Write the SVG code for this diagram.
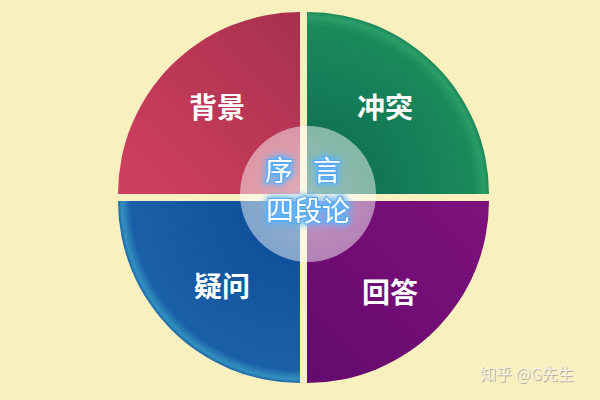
<svg xmlns="http://www.w3.org/2000/svg" width="600" height="400" viewBox="0 0 600 400">
  <style>
    .label { font-family: "Noto Sans CJK SC", "Noto Sans", sans-serif; font-size: 28px; font-weight: 700; fill: #ffffff; text-anchor: middle; }
    .center-text { font-family: "Noto Sans CJK SC", "Noto Sans", sans-serif; font-size: 28px; font-weight: 400; fill: #ffffff; stroke: #5aa8ee; stroke-width: 2.2; paint-order: stroke; }
    .wm { font-family: "Noto Sans CJK SC", "Liberation Sans", sans-serif; font-size: 16px; }
  </style>
  <defs>
    <linearGradient id="gTL" x1="0" y1="1" x2="1" y2="0">
      <stop offset="0" stop-color="#d0405e"/>
      <stop offset="1" stop-color="#a8304f"/>
    </linearGradient>
    <radialGradient id="gTR" cx="307" cy="194" r="182" gradientUnits="userSpaceOnUse">
      <stop offset="0" stop-color="#0c6550"/>
      <stop offset="0.92" stop-color="#1a8a5c"/>
      <stop offset="0.975" stop-color="#2a9e68"/>
      <stop offset="1" stop-color="#1c8658"/>
    </radialGradient>
    <radialGradient id="gBL" cx="300" cy="201" r="182" gradientUnits="userSpaceOnUse">
      <stop offset="0" stop-color="#0a4a94"/>
      <stop offset="0.93" stop-color="#1a60a8"/>
      <stop offset="0.98" stop-color="#3490c0"/>
      <stop offset="1" stop-color="#1a64a8"/>
    </radialGradient>
    <linearGradient id="gBR" x1="0" y1="1" x2="1" y2="0">
      <stop offset="0" stop-color="#640a6e"/>
      <stop offset="1" stop-color="#7e127c"/>
    </linearGradient>
    <filter id="glow" x="-30%" y="-30%" width="160%" height="160%">
      <feGaussianBlur in="SourceAlpha" stdDeviation="3.5" result="b"/>
      <feFlood flood-color="#5ab4ff" flood-opacity="1"/>
      <feComposite in2="b" operator="in" result="g"/>
      <feMerge>
        <feMergeNode in="g"/>
        <feMergeNode in="g"/>
        <feMergeNode in="SourceGraphic"/>
      </feMerge>
    </filter>
    <radialGradient id="gCenter" cx="0.5" cy="0.5" r="0.5">
      <stop offset="0" stop-color="#ffffff" stop-opacity="0.58"/>
      <stop offset="1" stop-color="#ffffff" stop-opacity="0.48"/>
    </radialGradient>
  </defs>

  <rect width="600" height="400" fill="#f9f0c0"/>

  <g id="background-quadrant">
    <path d="M300,194 L118,194 A182,182 0 0 1 300,12 Z" fill="url(#gTL)"/>
    <text class="label" x="217" y="118">背景</text>
  </g>
  <g id="conflict-quadrant">
    <path d="M307,194 L307,12 A182,182 0 0 1 489,194 Z" fill="url(#gTR)"/>
    <text class="label" x="385" y="118">冲突</text>
  </g>
  <g id="question-quadrant">
    <path d="M300,201 L300,383 A182,182 0 0 1 118,201 Z" fill="url(#gBL)"/>
    <text class="label" x="222" y="297">疑问</text>
  </g>
  <g id="answer-quadrant">
    <path d="M307,201 L489,201 A182,182 0 0 1 307,383 Z" fill="url(#gBR)"/>
    <text class="label" x="390" y="303">回答</text>
  </g>

  <g id="center">
    <circle cx="308" cy="194" r="68" fill="url(#gCenter)"/>
    <g filter="url(#glow)">
      <text class="center-text" x="265 296 313" y="181">序 言</text>
      <text class="center-text" x="308" y="221" text-anchor="middle">四段论</text>
    </g>
  </g>

  <g id="connectors"></g>

  <g id="watermark">
    <text class="wm" x="481" y="381" fill="#b8b098">知乎 @G先生</text>
    <text class="wm" x="480" y="380" fill="#f6f2e2">知乎 @G先生</text>
  </g>
</svg>
